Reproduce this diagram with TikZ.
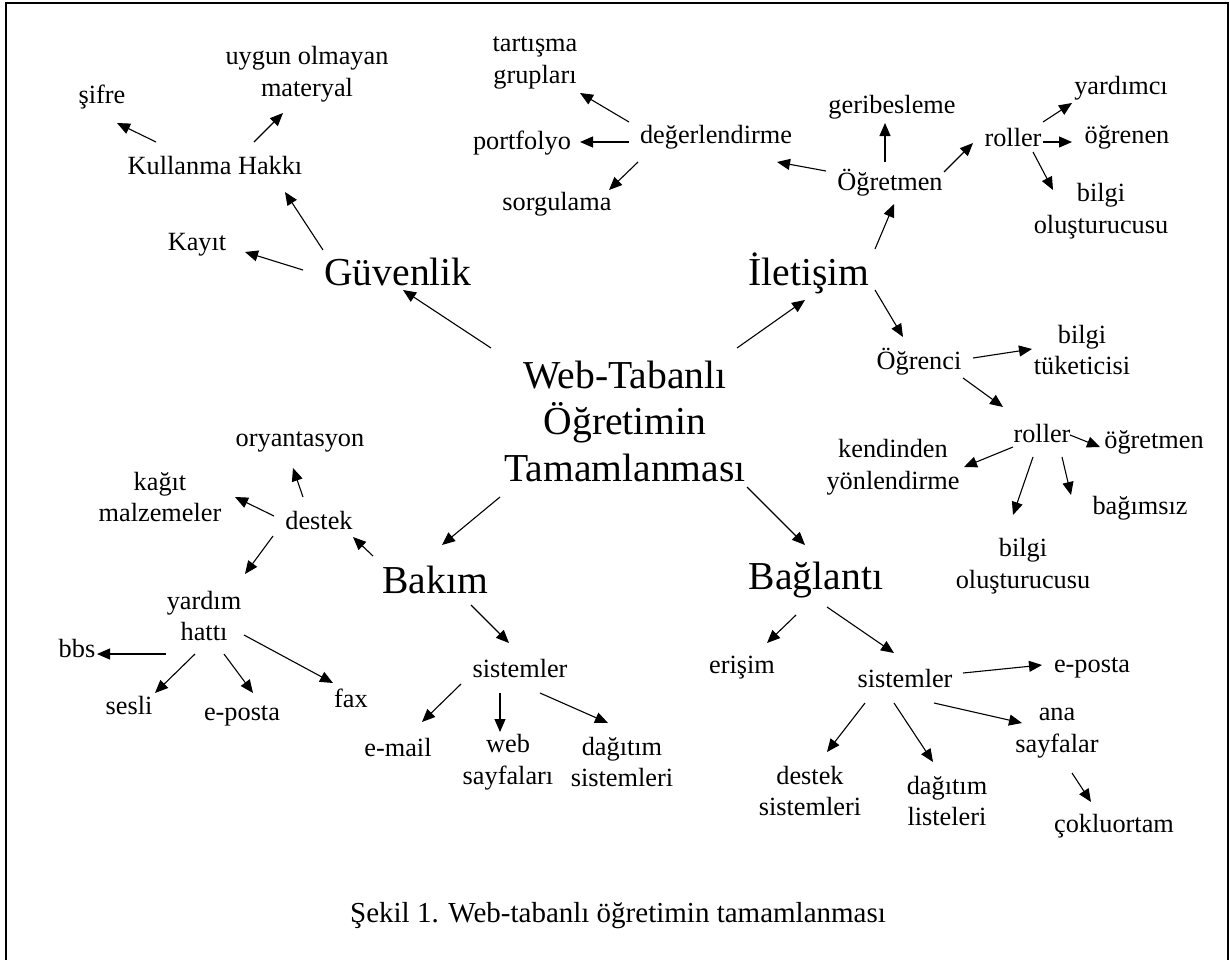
\documentclass[tikz,border=0pt]{standalone}
\usepackage{fontspec}
\setmainfont{Liberation Serif}
\usetikzlibrary{arrows.meta}
\begin{document}
\begin{tikzpicture}[x=1pt,y=-1pt,
  sm/.style={font=\fontsize{26.3}{31.5}\selectfont, inner sep=0pt, align=center},
  lg/.style={font=\fontsize{39.6}{46.5}\selectfont, inner sep=0pt, align=center},
  cp/.style={font=\fontsize{29}{34}\selectfont, inner sep=0pt},
  arr/.style={-{Triangle[length=13pt,width=11pt]}, line width=1.1pt},
  frame/.style={line width=2pt}]
\useasboundingbox (0,0) rectangle (1230,959);
\draw[frame] (5.5,965) -- (5.5,2.5) -- (1227.5,2.5) -- (1227.5,965);

% nodes
\node[lg] (ctr) at (625,421) {Web-Tabanlı\\Öğretimin\\Tamamlanması};
\node[lg] (gv)  at (398,272) {Güvenlik};
\node[lg] (il)  at (809,273) {İletişim};
\node[lg] (bak) at (435,580) {Bakım};
\node[lg] (bgl) at (816,580) {Bağlantı};

\node[sm] (kay) at (197,245) {Kayıt};
\node[sm] (kh)  at (215,165) {Kullanma Hakkı};
\node[sm] (sif) at (102,97)  {şifre};
\node[sm] (uom) at (307,74)  {uygun olmayan\\materyal};

\node[sm] (ogm) at (890,183) {Öğretmen};
\node[sm] (geri) at (892,107) {geribesleme};
\node[sm] (rol1) at (1013,137) {roller};
\node[sm] (yar) at (1121,88) {yardımcı};
\node[sm] (ogn) at (1127,137) {öğrenen};
\node[sm] (bo1) at (1101,211) {bilgi\\oluşturucusu};
\node[sm] (deg) at (716,137) {değerlendirme};
\node[sm] (tg)  at (535,63)  {tartışma\\grupları};
\node[sm] (port) at (522,143) {portfolyo};
\node[sm] (sorg) at (557,204) {sorgulama};

\node[sm] (ogc) at (919,362) {Öğrenci};
\node[sm] (bt)  at (1082,350) {bilgi\\tüketicisi};
\node[sm] (rol2) at (1042,433) {roller};
\node[sm] (ogt) at (1154,442) {öğretmen};
\node[sm] (ky)  at (893,467) {kendinden\\yönlendirme};
\node[sm] (bag) at (1140,508) {bağımsız};
\node[sm] (bo2) at (1023,566) {bilgi\\oluşturucusu};

\node[sm] (des) at (319,520) {destek};
\node[sm] (ory) at (300,442) {oryantasyon};
\node[sm] (kag) at (160,497) {kağıt\\malzemeler};
\node[sm] (yh)  at (204,616) {yardım\\hattı};
\node[sm] (bbs) at (77,648)  {bbs};
\node[sm] (ses) at (129,705) {sesli};
\node[sm] (ep1) at (242,716) {e-posta};
\node[sm] (fax) at (351,698) {fax};

\node[sm] (sis1) at (520,668) {sistemler};
\node[sm] (em)  at (398,747) {e-mail};
\node[sm] (web) at (508,762) {web\\sayfaları};
\node[sm] (dag) at (622,762) {dağıtım\\sistemleri};

\node[sm] (eri) at (742,668) {erişim};
\node[sm] (sis2) at (905,678) {sistemler};
\node[sm] (ep2) at (1092,668) {e-posta};
\node[sm] (ds)  at (810,791) {destek\\sistemleri};
\node[sm] (dl)  at (947,801) {dağıtım\\listeleri};
\node[sm] (ana) at (1057,733) {ana\\sayfalar};
\node[sm] (cok) at (1114,826) {çokluortam};

\node[cp] (cap) at (618,916) {Şekil 1. Web-tabanlı öğretimin tamamlanması};

% connectors
\draw[arr] ([shift={(-134,-73)}]ctr.center) -- ([shift={(5,18)}]gv.center);
\draw[arr] ([shift={(-95,-2)}]gv.center) -- ([shift={(48,7)}]kay.center);
\draw[arr] ([shift={(-75,-22)}]gv.center) -- ([shift={(70,27)}]kh.center);
\draw[arr] ([shift={(-59,-23)}]kh.center) -- ([shift={(15,26)}]sif.center);
\draw[arr] ([shift={(39,-23)}]kh.center) -- ([shift={(-24,39)}]uom.center);

\draw[arr] ([shift={(112,-73)}]ctr.center) -- ([shift={(-4,27)}]il.center);
\draw[arr] ([shift={(66,-24)}]il.center) -- ([shift={(4,21)}]ogm.center);
\draw[arr] ([shift={(66,17)}]il.center) -- ([shift={(-16,-25)}]ogc.center);
\draw[arr] ([shift={(-5,-21)}]ogm.center) -- ([shift={(-7,16)}]geri.center);
\draw[arr] ([shift={(-64,-12)}]ogm.center) -- ([shift={(61,25)}]deg.center);
\draw[arr] ([shift={(54,-11)}]ogm.center) -- ([shift={(-40,6)}]rol1.center);
\draw[arr] ([shift={(30,-15)}]rol1.center) -- ([shift={(-49,15)}]yar.center);
\draw[arr] ([shift={(30,5)}]rol1.center) -- ([shift={(-55,5)}]ogn.center);
\draw[arr] ([shift={(20,15)}]rol1.center) -- ([shift={(-48,-21)}]bo1.center);
\draw[arr] ([shift={(-87,-15)}]deg.center) -- ([shift={(45,30)}]tg.center);
\draw[arr] ([shift={(-87,5)}]deg.center) -- ([shift={(58,-1)}]port.center);
\draw[arr] ([shift={(-78,25)}]deg.center) -- ([shift={(52,-14)}]sorg.center);

\draw[arr] ([shift={(54,-4)}]ogc.center) -- ([shift={(-50,-1)}]bt.center);
\draw[arr] ([shift={(44,16)}]ogc.center) -- ([shift={(-39,-26)}]rol2.center);
\draw[arr] ([shift={(28,2)}]rol2.center) -- ([shift={(-54,5)}]ogt.center);
\draw[arr] ([shift={(-29,14)}]rol2.center) -- ([shift={(71,0)}]ky.center);
\draw[arr] ([shift={(20,24)}]rol2.center) -- ([shift={(-69,-13)}]bag.center);
\draw[arr] ([shift={(-9,24)}]rol2.center) -- ([shift={(-10,-51)}]bo2.center);

\draw[arr] ([shift={(-125,76)}]ctr.center) -- ([shift={(7,-35)}]bak.center);
\draw[arr] ([shift={(122,66)}]ctr.center) -- ([shift={(-11,-35)}]bgl.center);
\draw[arr] ([shift={(-62,-24)}]bak.center) -- ([shift={(34,17)}]des.center);
\draw[arr] ([shift={(-16,-23)}]des.center) -- ([shift={(-7,26)}]ory.center);
\draw[arr] ([shift={(-45,-4)}]des.center) -- ([shift={(75,0)}]kag.center);
\draw[arr] ([shift={(-46,16)}]des.center) -- ([shift={(41,-42)}]yh.center);
\draw[arr] ([shift={(-38,38)}]yh.center) -- ([shift={(20,6)}]bbs.center);
\draw[arr] ([shift={(-9,38)}]yh.center) -- ([shift={(26,-12)}]ses.center);
\draw[arr] ([shift={(20,38)}]yh.center) -- ([shift={(11,-23)}]ep1.center);
\draw[arr] ([shift={(40,19)}]yh.center) -- ([shift={(-18,-15)}]fax.center);
\draw[arr] ([shift={(36,25)}]bak.center) -- ([shift={(-11,-25)}]sis1.center);
\draw[arr] ([shift={(-59,16)}]sis1.center) -- ([shift={(24,-25)}]em.center);
\draw[arr] ([shift={(-20,25)}]sis1.center) -- ([shift={(-8,-30)}]web.center);
\draw[arr] ([shift={(20,25)}]sis1.center) -- ([shift={(-14,-39)}]dag.center);

\draw[arr] ([shift={(-20,35)}]bgl.center) -- ([shift={(25,-25)}]eri.center);
\draw[arr] ([shift={(11,27)}]bgl.center) -- ([shift={(-11,-25)}]sis2.center);
\draw[arr] ([shift={(58,-5)}]sis2.center) -- ([shift={(-50,-3)}]ep2.center);
\draw[arr] ([shift={(-40,25)}]sis2.center) -- ([shift={(17,-39)}]ds.center);
\draw[arr] ([shift={(-11,25)}]sis2.center) -- ([shift={(-14,-39)}]dl.center);
\draw[arr] ([shift={(29,25)}]sis2.center) -- ([shift={(-35,-10)}]ana.center);
\draw[arr] ([shift={(15,40)}]ana.center) -- ([shift={(-23,-24)}]cok.center);
\end{tikzpicture}
\end{document}
